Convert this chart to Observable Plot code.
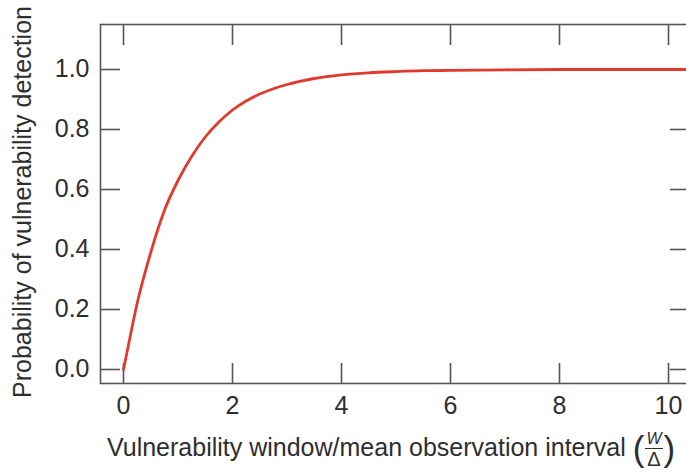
<!DOCTYPE html>
<html>
<head>
<meta charset="utf-8">
<script src="https://cdn.jsdelivr.net/npm/d3@7"></script>
<script src="https://cdn.jsdelivr.net/npm/@observablehq/plot@0.6"></script>
<style>
  html, body { margin: 0; padding: 0; background: #fff; }
  #wrap { width: 686px; height: 474px; overflow: hidden; position: relative; }
  #xlabel { position: relative; width: 686px; height: 54px; font-family: "Liberation Sans", Arial, sans-serif; color: #2e2e2e; }
  #xlabel .row { position: absolute; left: 107px; top: 5px; height: 44px; display: flex; align-items: center; white-space: nowrap; }
</style>
</head>
<body>
<div id="wrap"></div>
<script>
// Data
const ratio = [0, 0.1, 0.25, 0.5, 0.75, 1, 1.25, 1.5, 1.75, 2, 2.25, 2.5, 2.75, 3, 3.5, 4, 4.5, 5, 5.5, 6, 7, 8, 9, 10, 10.4];
const probability = [0, 0.09, 0.22, 0.39, 0.53, 0.63, 0.71, 0.775, 0.825, 0.865, 0.895, 0.918, 0.936, 0.95, 0.97, 0.982, 0.989, 0.993, 0.996, 0.997, 0.999, 1.0, 1.0, 1.0, 1.0];
const xTicks = [0, 2, 4, 6, 8, 10];
const yTicks = [0, 0.2, 0.4, 0.6, 0.8, 1.0];
const yTitle = "Probability of vulnerability detection";
const xTitle = "Vulnerability window/mean observation interval";
const fracTop = "W";
const fracBottom = "Δ";

const data = ratio.map((r, i) => ({ r, p: probability[i] }));

const axisColor = "#555";
const textColor = "#2e2e2e";
const font = "'Liberation Sans', Arial, sans-serif";

const chart = Plot.plot({
  width: 686,
  height: 420,
  marginLeft: 100,
  marginRight: -3,
  marginTop: 24,
  marginBottom: 37,
  x: { domain: [-0.422, 10.385] },
  y: { domain: [-0.0467, 1.15] },
  style: { fontFamily: font, fontSize: "25px", color: textColor, background: "#fff", overflow: "hidden" },
  marks: [
    Plot.frame({ stroke: axisColor, strokeWidth: 1.6 }),
    // inward ticks
    Plot.axisX(xTicks, { anchor: "bottom", tickSize: -20, tickFormat: () => "", stroke: axisColor, strokeWidth: 1.6, label: null }),
    Plot.axisX(xTicks, { anchor: "top", tickSize: -20, tickFormat: () => "", stroke: axisColor, strokeWidth: 1.6, label: null }),
    Plot.axisY(yTicks, { anchor: "left", tickSize: -20, tickFormat: () => "", stroke: axisColor, strokeWidth: 1.6, label: null }),
    Plot.axisY(yTicks, { anchor: "right", tickSize: -20, tickFormat: () => "", stroke: axisColor, strokeWidth: 1.6, label: null }),
    // tick labels
    Plot.axisX(xTicks, { anchor: "bottom", tickSize: 0, tickPadding: 13, tickFormat: d3.format("d"), fill: textColor, fontSize: 25, label: null }),
    Plot.axisY(yTicks, { anchor: "left", tickSize: 0, tickPadding: 11, tickFormat: d3.format(".1f"), fill: textColor, fontSize: 25, label: null }),
    // y title
    Plot.text([yTitle], { frameAnchor: "left", textAnchor: "middle", rotate: -90, dx: -78, dy: -2, fontSize: 25, fill: textColor }),
    // curve
    Plot.line(data, { x: "r", y: "p", stroke: "#e03a2f", strokeWidth: 2.8, curve: "monotone-x" })
  ]
});

const wrap = document.getElementById("wrap");
wrap.appendChild(chart);

const xl = document.createElement("div");
xl.id = "xlabel";
xl.innerHTML = `<div class="row">
  <span style="font-size:25px;">${xTitle}&nbsp;</span>
  <span style="font-size:35px;line-height:35px;position:relative;top:1px;">(</span>
  <span style="display:inline-flex;flex-direction:column;align-items:center;margin:0 1px;position:relative;top:3px;">
    <span style="font-size:16px;line-height:14px;font-style:italic;border-bottom:1.6px solid ${textColor};padding:0 1px 2px;">${fracTop}</span>
    <span style="font-size:20px;line-height:20px;">${fracBottom}</span>
  </span>
  <span style="font-size:35px;line-height:35px;position:relative;top:1px;">)</span>
</div>`;
wrap.appendChild(xl);
</script>
</body>
</html>
